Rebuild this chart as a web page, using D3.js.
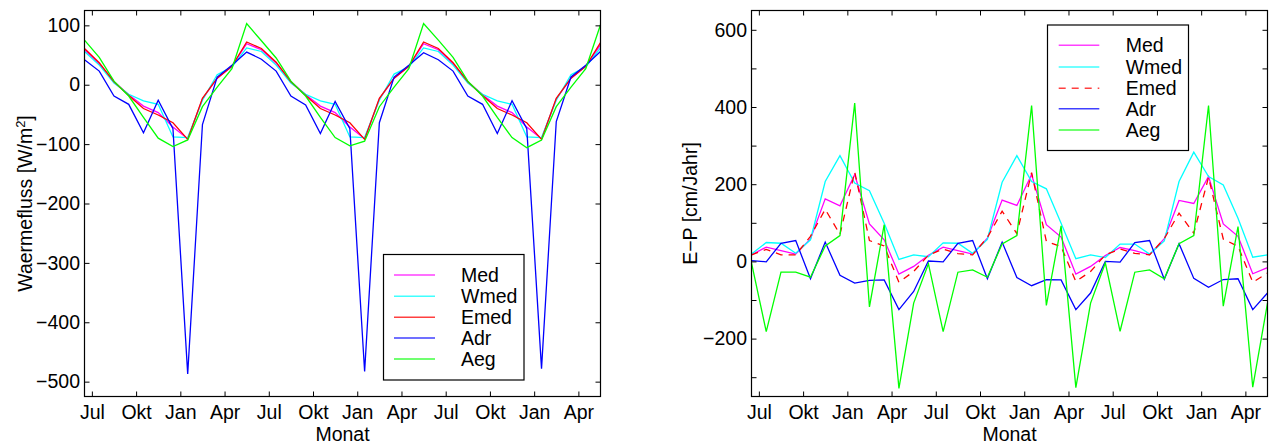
<!DOCTYPE html>
<html>
<head>
<meta charset="utf-8">
<script src="https://cdn.jsdelivr.net/npm/d3@7"></script>
<style>
  html, body { margin: 0; padding: 0; background: #fff; }
  svg { display: block; }
  text { font-family: "Liberation Sans", Arial, Helvetica, sans-serif; fill: #000; }
</style>
</head>
<body>
<svg id="chart" width="1270" height="443"></svg>
<script>
// ---------- DATA ----------
const xTickPos = [0.5, 3.5, 6.5, 9.5, 12.5, 15.5, 18.5, 21.5, 24.5, 27.5, 30.5, 33.5];
const xTickLabels = ["Jul", "Okt", "Jan", "Apr", "Jul", "Okt", "Jan", "Apr", "Jul", "Okt", "Jan", "Apr"];
const seriesNames = ["Med", "Wmed", "Emed", "Adr", "Aeg"];
const seriesColors = ["#ff00ff", "#00ffff", "#ff0000", "#0000ff", "#00ff00"];

// Left panel: Waermefluss [W/m^2]
const medL  = [59,35,5,-17,-36,-47,-71,-91,-24,11,31,69, 59,36,5,-17,-36,-47,-71,-91,-24,11,31,69, 59,35,5,-17,-36,-47,-71,-91,-24,11,31,67];
const wmedL = [56,33,3,-16,-27,-33,-88,-89,-26,17,30,62, 56,33,3,-16,-27,-33,-88,-89,-26,18,30,62, 56,33,3,-16,-27,-33,-88,-89,-26,17,30,62];
const emedL = [61,37,5,-18,-40,-51,-64,-92,-23,11,31,72, 61,38,5,-18,-40,-51,-64,-92,-23,11,31,72, 61,37,5,-18,-40,-51,-64,-92,-23,11,31,71];
const adrL  = [42,23,-19,-33,-81,-26,-74,-487,-67,13,33,55, 43,23,-19,-34,-82,-28,-74,-483,-64,13,33,54, 42,23,-19,-33,-82,-27,-74,-478,-62,13,33,56];
const aegL  = [75,46,6,-19,-55,-90,-104,-93,-37,-4,27,103, 74,45,6,-19,-55,-89,-103,-95,-37,-4,27,103, 75,46,6,-19,-55,-89,-106,-93,-37,-4,27,101];
const yTicksL = [-500, -400, -300, -200, -100, 0, 100];
const yLabelsL = [-500, -400, -300, -200, -100, 0, 100];

// Right panel: E-P [cm/Jahr]
const medR  = [17,37,28,19,58,162,144,225,97,56,-33,-13, 16,37,28,19,60,159,145,225,95,63,-33,-13, 15,36,28,17,59,158,150,220,97,65,-32,-16];
const wmedR = [19,49,47,21,56,207,274,203,183,99,5,17, 12,48,47,21,57,205,274,207,188,99,7,17, 10,45,45,19,53,207,283,220,198,112,11,17];
const emedR = [17,31,17,17,65,135,70,232,54,40,-54,-26, 16,32,20,17,62,130,72,230,52,38,-52,-26, 17,32,21,17,59,125,73,218,58,39,-54,-30];
const adrR  = [2,-1,47,54,-45,50,-36,-56,-49,-48,-125,-78, 1,-1,47,54,-45,50,-42,-63,-47,-48,-125,-82, 0,-2,49,54,-46,46,-44,-67,-47,-45,-125,-82];
const aegR  = [-4,-182,-28,-28,-41,40,67,410,-118,95,-329,-108, -6,-182,-28,-22,-41,45,67,404,-114,92,-327,-108, -4,-181,-28,-22,-45,46,67,404,-116,90,-326,-108];
const yTicksR = [-300, -200, -100, 0, 100, 200, 300, 400, 500, 600];
const yLabelsR = [-200, 0, 200, 400, 600];

// ---------- DRAWING ----------
const svg = d3.select("#chart");
const FS = 19.5;
const fmt = d3.format("");

function panel(opts) {
  const { x0, x1, y0, y1, yDomain, yTicks, yLabels, series, dashes, ylabel, legend } = opts;
  const g = svg.append("g");
  const x = d3.scaleLinear().domain([0, 35]).range([x0, x1]);
  const y = d3.scaleLinear().domain(yDomain).range([y1, y0]);

  // box background
  g.append("rect").attr("x", x0).attr("y", y0).attr("width", x1 - x0).attr("height", y1 - y0)
    .attr("fill", "#fff");

  // data lines
  const line = d3.line().x((d, i) => x(i)).y(d => y(d));
  series.forEach((s, k) => {
    g.append("path").datum(s)
      .attr("d", line)
      .attr("fill", "none")
      .attr("stroke", seriesColors[k])
      .attr("stroke-width", 1.3)
      .attr("stroke-linejoin", "miter")
      .attr("stroke-dasharray", dashes[k] ? "7,6" : null);
  });

  // axes
  const styleAxis = sel => {
    sel.select(".domain").remove();
    sel.selectAll(".tick line").attr("stroke", "#000").attr("stroke-width", 1);
    sel.selectAll(".tick text").attr("font-size", FS).attr("fill", "#000")
      .attr("font-family", '"Liberation Sans", Arial, Helvetica, sans-serif');
  };
  g.append("g").attr("transform", `translate(0,${y1})`)
    .call(d3.axisBottom(x).tickValues(xTickPos).tickFormat((d, i) => xTickLabels[i])
      .tickSizeInner(-5).tickSizeOuter(0).tickPadding(9))
    .call(styleAxis);
  g.append("g").attr("transform", `translate(0,${y0})`)
    .call(d3.axisTop(x).tickValues(xTickPos).tickFormat("").tickSizeInner(-5).tickSizeOuter(0))
    .call(styleAxis);
  g.append("g").attr("transform", `translate(${x0},0)`)
    .call(d3.axisLeft(y).tickValues(yTicks)
      .tickFormat(d => yLabels.includes(d) ? d3.format("")(d).replace("-", "\u2212") : "")
      .tickSizeInner(-5).tickSizeOuter(0).tickPadding(4.5))
    .call(styleAxis);
  g.append("g").attr("transform", `translate(${x1},0)`)
    .call(d3.axisRight(y).tickValues(yTicks).tickFormat("").tickSizeInner(-5).tickSizeOuter(0))
    .call(styleAxis);

  // frame
  g.append("rect").attr("x", x0).attr("y", y0).attr("width", x1 - x0).attr("height", y1 - y0)
    .attr("fill", "none").attr("stroke", "#000").attr("stroke-width", 1.2);

  // x label
  g.append("text").attr("x", (x0 + x1) / 2).attr("y", 440.5)
    .attr("text-anchor", "middle").attr("font-size", FS).text("Monat");

  // y label
  const yl = g.append("text")
    .attr("transform", `translate(${ylabel.x},${(y0 + y1) / 2}) rotate(-90)`)
    .attr("text-anchor", "middle").attr("font-size", FS);
  ylabel.build(yl);

  // legend
  const L = legend;
  const lg = g.append("g");
  lg.append("rect").attr("x", L.x).attr("y", L.y).attr("width", L.w).attr("height", L.h)
    .attr("fill", "#fff").attr("stroke", "#000").attr("stroke-width", 1.2);
  seriesNames.forEach((name, k) => {
    const ry = L.rows[k];
    lg.append("line").attr("x1", L.lx0).attr("x2", L.lx1).attr("y1", ry).attr("y2", ry)
      .attr("stroke", seriesColors[k]).attr("stroke-width", 1.5).attr("stroke-opacity", 0.75)
      .attr("stroke-dasharray", dashes[k] ? "7,6" : null);
    lg.append("text").attr("x", L.tx).attr("y", ry).attr("dy", "0.36em")
      .attr("font-size", FS).text(name);
  });
}

panel({
  x0: 84.5, x1: 600.5, y0: 10.5, y1: 396.5,
  yDomain: [-525, 125],
  yTicks: yTicksL, yLabels: yLabelsL,
  series: [medL, wmedL, emedL, adrL, aegL],
  dashes: [false, false, false, false, false],
  ylabel: {
    x: 32,
    build: t => {
      t.append("tspan").text("Waermefluss [W/m");
      t.append("tspan").attr("dy", -7).attr("font-size", 13).text("2");
      t.append("tspan").attr("dy", 7).text("]");
    }
  },
  legend: { x: 383.5, y: 254.5, w: 140.5, h: 125.5, lx0: 394, lx1: 435, tx: 461,
            rows: [275, 296.3, 317.3, 338, 359] }
});

panel({
  x0: 751.5, x1: 1267.5, y0: 10.5, y1: 396.5,
  yDomain: [-350, 650],
  yTicks: yTicksR, yLabels: yLabelsR,
  series: [medR, wmedR, emedR, adrR, aegR],
  dashes: [false, false, true, false, false],
  ylabel: {
    x: 697,
    build: t => { t.text("E\u2212P [cm/Jahr]"); }
  },
  legend: { x: 1047.5, y: 25, w: 141, h: 125.5, lx0: 1058.7, lx1: 1099.3, tx: 1125.7,
            rows: [45.3, 67, 88.3, 108.7, 130] }
});
</script>
</body>
</html>
